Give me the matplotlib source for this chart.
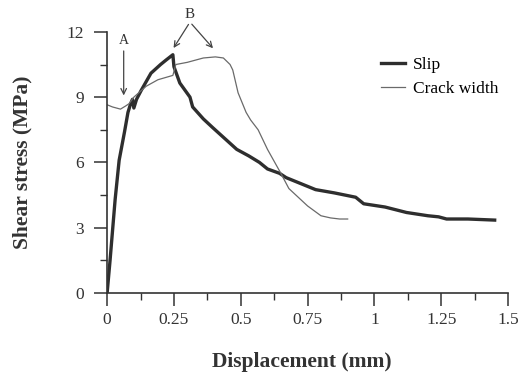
import matplotlib
matplotlib.use("Agg")
import matplotlib.pyplot as plt
from matplotlib.ticker import MultipleLocator

# values
slip_x = [0, 0.011, 0.03, 0.045, 0.065, 0.078, 0.088, 0.095, 0.1, 0.11, 0.127, 0.164,
          0.2, 0.22, 0.246, 0.25, 0.272, 0.31, 0.32, 0.36, 0.395, 0.44, 0.485, 0.53,
          0.57, 0.6, 0.645, 0.67, 0.73, 0.78, 0.85, 0.93, 0.96, 1.04, 1.12, 1.2,
          1.24, 1.27, 1.35, 1.45]
slip_y = [0, 1.5, 4.3, 6.1, 7.4, 8.3, 8.7, 8.9, 8.5, 8.9, 9.3, 10.1,
          10.5, 10.7, 10.95, 10.4, 9.65, 9.0, 8.55, 8.0, 7.6, 7.1, 6.6, 6.3,
          6.0, 5.7, 5.5, 5.3, 5.0, 4.75, 4.6, 4.4, 4.1, 3.95, 3.7, 3.55,
          3.5, 3.4, 3.4, 3.35]

crack_x = [0, 0.02, 0.05, 0.07, 0.082, 0.1, 0.146, 0.19, 0.246, 0.257, 0.3, 0.36,
           0.405, 0.435, 0.46, 0.47, 0.49, 0.52, 0.537, 0.565, 0.6, 0.65, 0.68,
           0.75, 0.8, 0.836, 0.87, 0.9]
crack_y = [8.65, 8.55, 8.45, 8.6, 8.7, 9.0, 9.5, 9.8, 10.0, 10.5, 10.6, 10.8,
           10.85, 10.8, 10.5, 10.25, 9.2, 8.3, 7.95, 7.5, 6.6, 5.5, 4.8,
           4.0, 3.55, 3.45, 3.4, 3.4]

x_ticks = [0, 0.25, 0.5, 0.75, 1, 1.25, 1.5]
x_labels = ["0", "0.25", "0.5", "0.75", "1", "1.25", "1.5"]
y_ticks = [0, 3, 6, 9, 12]

plt.rcParams["font.family"] = ["Liberation Serif", "DejaVu Serif"]
ink = "#333333"

fig = plt.figure(figsize=(5.2, 3.84), dpi=100)
ax = fig.add_axes([0.206, 0.237, 0.771, 0.68])

ax.plot(slip_x, slip_y, color="#2e2e2e", linewidth=2.4, label="Slip")
ax.plot(crack_x, crack_y, color="#6a6a6a", linewidth=0.9, label="Crack width")

ax.set_xlim(0, 1.5)
ax.set_ylim(0, 12)
ax.set_xticks(x_ticks)
ax.set_xticklabels(x_labels)
ax.set_yticks(y_ticks)
ax.xaxis.set_minor_locator(MultipleLocator(0.125))
ax.yaxis.set_minor_locator(MultipleLocator(1.5))
ax.tick_params(which="major", direction="out", length=9.5, width=1.1,
               labelsize=12.5, colors=ink)
ax.tick_params(axis="x", which="major", pad=4)
ax.tick_params(axis="y", which="major", pad=7)
ax.tick_params(which="minor", direction="out", length=5, width=1.0, colors=ink)

for side in ["top", "right"]:
    ax.spines[side].set_visible(False)
for side in ["left", "bottom"]:
    ax.spines[side].set_linewidth(1.2)
    ax.spines[side].set_color(ink)

ax.set_xlabel("Displacement (mm)", fontsize=15.5, fontweight="bold", color=ink, va="center")
ax.set_ylabel("Shear stress (MPa)", fontsize=15.5, fontweight="bold", color=ink, va="center")
ax.xaxis.set_label_coords(0.486, -0.264)
ax.yaxis.set_label_coords(-0.21, 0.5)

# annotations A and B
ax.text(0.062, 11.3, "A", ha="center", va="bottom", fontsize=10, color=ink)
ax.annotate("", xy=(0.062, 8.95), xytext=(0.062, 11.25),
            arrowprops=dict(arrowstyle="->", color="#444444", lw=0.9))
ax.text(0.31, 12.5, "B", ha="center", va="bottom", fontsize=11, color=ink)
ax.annotate("", xy=(0.243, 11.15), xytext=(0.31, 12.45),
            arrowprops=dict(arrowstyle="->", color="#444444", lw=0.9))
ax.annotate("", xy=(0.403, 11.15), xytext=(0.31, 12.45),
            arrowprops=dict(arrowstyle="->", color="#444444", lw=0.9))

ax.legend(loc="upper left", bbox_to_anchor=(0.643, 0.965), frameon=False,
          fontsize=12.5, handlelength=1.4, handletextpad=0.45, labelspacing=0.45)

fig.savefig("out.png", dpi=100)
plt.close(fig)
